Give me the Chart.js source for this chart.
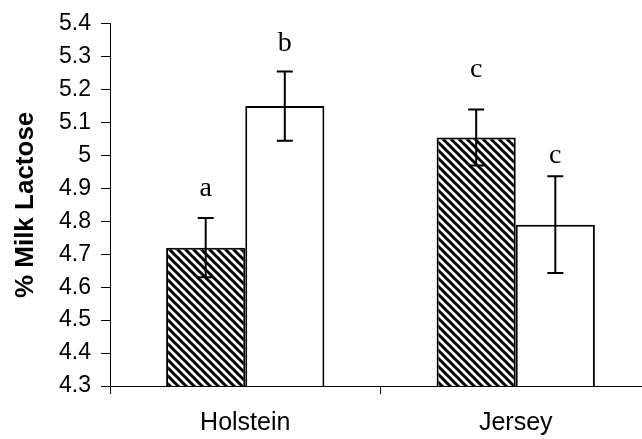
<!DOCTYPE html>
<html>
<head>
<meta charset="utf-8">
<script src="https://cdn.jsdelivr.net/npm/chart.js@4"></script>
<style>
  html, body { margin: 0; padding: 0; background: #fff; overflow: hidden; }
  #wrap { width: 651px; height: 439px; }
</style>
</head>
<body>
<div id="wrap"><canvas id="myChart"></canvas></div>
<script>
// data
var breeds = ["Holstein", "Jersey"];
var hatchedMeans = [4.72, 5.055];
var hatchedErr = [0.09, 0.085];
var openMeans = [5.15, 4.79];
var openErr = [0.105, 0.147];
var hatchedLetters = ["a", "c"];
var openLetters = ["b", "c"];
var hatchedLetterAt = [4.9, 5.26];
var openLetterAt = [5.34, 5.0];
var yTicks = [4.3, 4.4, 4.5, 4.6, 4.7, 4.8, 4.9, 5, 5.1, 5.2, 5.3, 5.4];

function hatch() {
    var c = document.createElement("canvas");
    c.width = 8; c.height = 8;
    var g = c.getContext("2d");
    g.fillStyle = "#fff";
    g.fillRect(0, 0, 8, 8);
    g.strokeStyle = "#000";
    g.lineWidth = 3;
    g.beginPath();
    g.moveTo(-2, -2); g.lineTo(10, 10);
    g.moveTo(-2, 6); g.lineTo(2, 10);
    g.moveTo(6, -2); g.lineTo(10, 2);
    g.stroke();
    return document.getElementById("myChart").getContext("2d").createPattern(c, "repeat");
}

// error bars and significance letters
var extras = {
    id: "extras",
    afterDatasetsDraw: function(chart) {
        var ctx = chart.ctx;
        var y = chart.scales.y;
        var sets = [
            {err: hatchedErr, letters: hatchedLetters, at: hatchedLetterAt},
            {err: openErr, letters: openLetters, at: openLetterAt}
        ];
        ctx.save();
        ctx.strokeStyle = "#000";
        ctx.lineWidth = 2;
        ctx.fillStyle = "#000";
        ctx.font = "28px 'Liberation Serif'";
        ctx.textAlign = "center";
        ctx.textBaseline = "middle";
        sets.forEach(function(s, di) {
            var meta = chart.getDatasetMeta(di);
            meta.data.forEach(function(bar, i) {
                var v = chart.data.datasets[di].data[i];
                var x = bar.x;
                var top = y.getPixelForValue(v + s.err[i]);
                var bot = y.getPixelForValue(v - s.err[i]);
                ctx.beginPath();
                ctx.moveTo(x, top); ctx.lineTo(x, bot);
                ctx.moveTo(x - 8, top); ctx.lineTo(x + 8, top);
                ctx.moveTo(x - 8, bot); ctx.lineTo(x + 8, bot);
                ctx.stroke();
                ctx.fillText(s.letters[i], x, y.getPixelForValue(s.at[i]));
            });
        });
        ctx.restore();
    }
};

new Chart(document.getElementById("myChart"), {
    type: "bar",
    data: {
        labels: breeds,
        datasets: [{
            data: hatchedMeans,
            backgroundColor: hatch(),
            borderColor: "#000",
            borderWidth: 2,
            categoryPercentage: 0.585,
            barPercentage: 1
        }, {
            data: openMeans,
            backgroundColor: "#fff",
            borderColor: "#000",
            borderWidth: 2,
            categoryPercentage: 0.585,
            barPercentage: 1
        }]
    },
    options: {
        responsive: true,
        maintainAspectRatio: false,
        animation: false,
        layout: { padding: { top: 19, right: 0, left: 0, bottom: 0 } },
        plugins: { legend: { display: false }, tooltip: { enabled: false } },
        scales: {
            x: {
                grid: { offset: true, drawOnChartArea: false, color: "#000", tickLength: 8 },
                border: { color: "#000", width: 1 },
                ticks: { color: "#000", padding: 14, font: { family: "'Liberation Sans'", size: 25 } },
                afterFit: function(s) { s.height = 53; }
            },
            y: {
                min: 4.3,
                max: 5.4,
                afterBuildTicks: function(s) { s.ticks = yTicks.map(function(v) { return {value: v}; }); },
                grid: { drawOnChartArea: false, color: "#000", tickLength: 9 },
                border: { color: "#000", width: 1 },
                ticks: { color: "#000", padding: 10, font: { family: "'Liberation Sans'", size: 23 },
                    callback: function(v) { return String(Math.round(v * 10) / 10); } },
                title: { display: true, text: "% Milk Lactose", color: "#000", padding: { top: 10, bottom: 0 },
                    font: { family: "'Liberation Sans'", size: 26, weight: "bold" } },
                afterFit: function(s) { s.width = 110; }
            }
        }
    },
    plugins: [extras]
});
</script>
</body>
</html>
